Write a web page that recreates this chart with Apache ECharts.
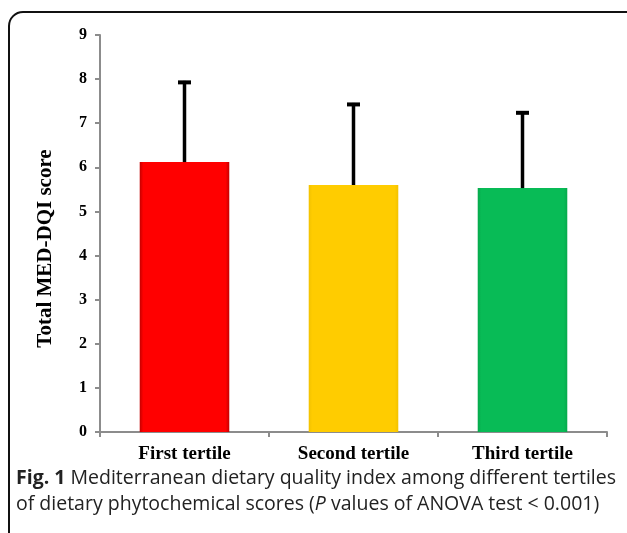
<!DOCTYPE html>
<html>
<head>
<meta charset="utf-8">
<style>
  html, body { margin: 0; padding: 0; background: #fff; }
  #chart { width: 627px; height: 533px; }
</style>
<script src="https://cdn.jsdelivr.net/npm/echarts@6/dist/echarts.min.js"></script>
</head>
<body>
<div id="chart"></div>
<script>
// tertile categories, mean MED-DQI score and its SD
var categories = ["First tertile", "Second tertile", "Third tertile"];
var means = [6.12, 5.60, 5.53];
var sds = [1.84, 1.86, 1.74];
var yTicks = [0, 1, 2, 3, 4, 5, 6, 7, 8, 9];

var barColors = [
  { edge: "#c40000", mid: "#ff0000" },
  { edge: "#f2c200", mid: "#ffcc00" },
  { edge: "#06a94c", mid: "#08bb56" }
];
var SERIF = "'Liberation Serif', 'DejaVu Serif', serif";
var SANS = "'Open Sans', sans-serif";

var chart = echarts.init(document.getElementById("chart"), null, { renderer: "canvas" });

// bar: horizontal gradient gives the faint bevel look of the original
function barData() {
  return means.map(function (v, i) {
    var c = barColors[i];
    return {
      value: v,
      itemStyle: {
        color: new echarts.graphic.LinearGradient(0, 0, 1, 0, [
          { offset: 0, color: c.edge }, { offset: 0.04, color: c.mid },
          { offset: 0.96, color: c.mid }, { offset: 1, color: c.edge }
        ])
      }
    };
  });
}

// error bar: only the upper whisker, drawn from the bar top
function renderErr(params, api) {
  var i = api.value(0);
  var lo = api.coord([i, api.value(1)]);
  var hi = api.coord([i, api.value(2)]);
  var cap = 6.5;
  return {
    type: "group",
    children: [
      { type: "line", shape: { x1: hi[0], y1: lo[1], x2: hi[0], y2: hi[1] },
        style: { stroke: "#000", lineWidth: 3.5 } },
      { type: "line", shape: { x1: hi[0] - cap, y1: hi[1] + 1.5, x2: hi[0] + cap, y2: hi[1] + 1.5 },
        style: { stroke: "#000", lineWidth: 4 } }
    ]
  };
}

chart.setOption({
  animation: false,
  grid: { left: 100, right: 20, top: 35, bottom: 101, containLabel: false },
  xAxis: {
    type: "category", data: categories,
    axisLine: { lineStyle: { color: "#8c8c8c", width: 2 } },
    axisTick: { show: true, length: 5, lineStyle: { color: "#8c8c8c", width: 2 } },
    axisLabel: { color: "#000", fontFamily: SERIF, fontWeight: "bold", fontSize: 19, margin: 13, interval: 0 }
  },
  yAxis: {
    type: "value", min: yTicks[0], max: yTicks[yTicks.length - 1], interval: 1,
    name: "Total MED-DQI score", nameLocation: "middle", nameGap: 44,
    // right padding nudges the rotated title a little below the axis middle
    nameTextStyle: { color: "#000", fontFamily: SERIF, fontWeight: "bold", fontSize: 21, padding: [0, 30, 0, 0] },
    axisLine: { show: true, lineStyle: { color: "#8c8c8c", width: 2 } },
    axisTick: { show: true, length: 5, lineStyle: { color: "#8c8c8c", width: 2 } },
    axisLabel: { color: "#000", fontFamily: SERIF, fontWeight: "bold", fontSize: 16, margin: 13 },
    splitLine: { show: false }
  },
  series: [
    { type: "bar", data: barData(), barWidth: "53%", z: 2 },
    {
      type: "custom", renderItem: renderErr, z: 3,
      data: means.map(function (m, i) { return [i, m, m + sds[i]]; })
    }
  ],
  graphic: [
    // frame with rounded top-left corner (runs off the right and bottom edges)
    { type: "rect", silent: true, z: -1,
      shape: { x: 9, y: 12, width: 700, height: 600, r: 14 },
      style: { fill: null, stroke: "#111", lineWidth: 2 } },
    { type: "text", x: 16, y: 478,
      style: {
        text: "{b|Fig. 1} Mediterranean dietary quality index among different tertiles",
        font: "19.5px " + SANS, fill: "#222", verticalAlign: "middle",
        rich: { b: { fontWeight: "bold", fontSize: 19.5, fontFamily: SANS, fill: "#222" } }
      } },
    { type: "text", x: 16, y: 504,
      style: {
        text: "of dietary phytochemical scores ({i|P} values of ANOVA test < 0.001)",
        font: "19.5px " + SANS, fill: "#222", verticalAlign: "middle",
        rich: { i: { fontStyle: "italic", fontSize: 19.5, fontFamily: SANS, fill: "#222" } }
      } }
  ]
});
</script>
</body>
</html>
